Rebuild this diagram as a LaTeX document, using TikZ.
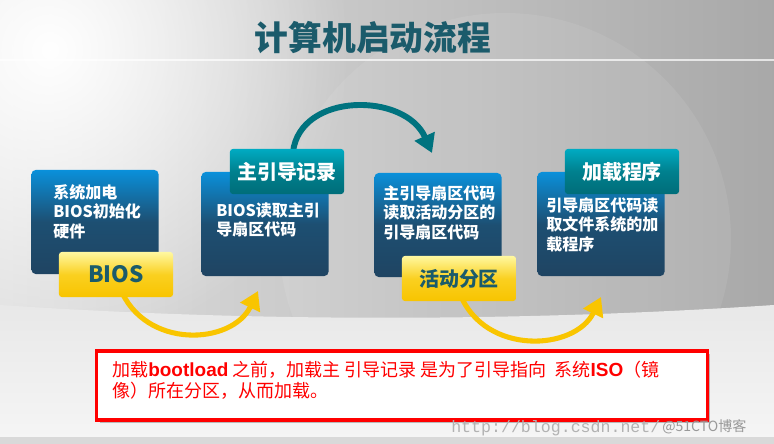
\documentclass[tikz,border=0pt]{standalone}
\usepackage{fontspec}
\setmainfont{Noto Sans CJK SC}
\newfontfamily\arialfnt{Liberation Sans}
\newfontfamily\monofnt{Liberation Mono}
\usetikzlibrary{arrows.meta,shadows,fadings}

\definecolor{titlecol}{HTML}{1B5B6B}
\definecolor{boxtop}{HTML}{0A90DA}
\definecolor{boxmid}{HTML}{1D4F72}
\definecolor{boxbot}{HTML}{1F4462}
\definecolor{tealtop}{HTML}{00ABC2}
\definecolor{tealmid}{HTML}{00808E}
\definecolor{tealbot}{HTML}{006D79}
\definecolor{yeltop}{HTML}{FFF8A0}
\definecolor{yelmid}{HTML}{FAD020}
\definecolor{yelbot}{HTML}{F8C400}
\definecolor{arrowyel}{HTML}{F9C500}
\definecolor{arrowteal}{HTML}{00737F}

\tikzfading[name=glowfade, inner color=transparent!0, outer color=transparent!100]

\begin{document}
\begin{tikzpicture}[x=0.025cm, y=-0.025cm]
    \tikzstyle{infobox}=[rounded corners=3pt, minimum width=3.175cm, minimum height=2.6cm, inner sep=0pt, top color=boxtop, bottom color=boxbot, middle color=boxmid]
    \tikzstyle{infotext}=[anchor=north west, inner sep=0pt, align=left, text=white, font=\fontsize{11.4}{14}\selectfont\bfseries]
    \tikzstyle{tab}=[rounded corners=2pt, minimum width=2.85cm, minimum height=1.125cm, inner sep=0pt]
    \tikzstyle{yellow tab}=[tab, top color=yeltop, bottom color=yelbot, middle color=yelmid, text=titlecol, font=\fontsize{14.2}{16}\selectfont\bfseries]
    \tikzstyle{teal tab}=[tab, top color=tealtop, bottom color=tealbot, middle color=tealmid, text=white, font=\fontsize{14.2}{16}\selectfont\bfseries]
    \tikzstyle{bend arrow}=[line width=3.6pt, -{Triangle[length=13pt,width=15pt]}]

\useasboundingbox (0,0) rectangle (774,444);
% background
\shade[left color=black!12, right color=black!34] (0,0) rectangle (774,444);
\fill[white, path fading=glowfade] (-250,-250) rectangle (350,350);
\fill[white, opacity=0.08] (505,239) circle (226);
\shade[top color=black!9, bottom color=black!4] (0,305) .. controls (250,322) and (520,322) .. (774,305) -- (774,437) -- (0,437) -- cycle;
\fill[black!15] (0,437) rectangle (774,444);
\draw[white, opacity=0.7, line width=1.2pt] (0,60) -- (774,60);

\node[text=titlecol, font=\fontsize{24}{28}\selectfont\bfseries] (title) at (373,38) {计算机启动流程};

% arrows, drawn below the tabs
\coordinate (y1s) at (120,288);
\coordinate (y1e) at (258,291);
\coordinate (y2s) at (460,294);
\coordinate (y2e) at (601,297);
\coordinate (ts) at (293,152);
\coordinate (te) at (432,153);
\draw[bend arrow, arrowyel] (y1s) .. controls (145,350) and (232,345) .. (y1e);
\draw[bend arrow, arrowyel] (y2s) .. controls (485,356) and (575,351) .. (y2e);
\draw[bend arrow, arrowteal, line width=4.2pt] (ts) .. controls (300,92) and (405,92) .. (te);

% boxes
\node[infobox] (b1) at (95,222) {};
\node[infobox] (b2) at (265,224) {};
\node[infobox] (b3) at (438,225) {};
\node[infobox] (b4) at (601,224) {};
\node[infotext] (t1) at (53,184) {系统加电\\BIOS初始化\\硬件};
\node[infotext] (t2) at (216,202) {BIOS读取主引\\导扇区代码};
\node[infotext] (t3) at (383,185) {主引导扇区代码\\读取活动分区的\\引导扇区代码};
\node[infotext] (t4) at (546,197) {引导扇区代码读\\取文件系统的加\\载程序};

% tabs
\node[yellow tab, font=\fontsize{16}{18}\selectfont\bfseries] (bios) at (116,274.5) {BIOS};
\node[teal tab] (mbr) at (287,171.5) {主引导记录};
\node[yellow tab] (part) at (459,278.5) {活动分区};
\node[teal tab] (loader) at (622,171.5) {加载程序};

% note
\node[draw=red, line width=2.2pt, fill=white, minimum width=15.25cm, minimum height=1.725cm, drop shadow={shadow xshift=2pt, shadow yshift=-2pt, opacity=0.5}] (note) at (402,385.5) {};
\node[anchor=north west, inner sep=0pt, align=left, text=red, font=\fontsize{12.8}{15}\selectfont] (notetext) at (112,361) {加载{\arialfnt\bfseries\fontsize{13.5}{15}\selectfont bootload} 之前，加载主 引导记录 是为了引导指向\ \ 系统{\arialfnt\bfseries\fontsize{13.5}{15}\selectfont ISO}（镜\\像）所在分区，从而加载。};

% watermark
\node[anchor=west, inner sep=0pt, text=black!30, font=\monofnt\fontsize{11.8}{13}\selectfont] (wmurl) at (451,428) {http://blog.csdn.net/};
\node[anchor=west, inner sep=0pt, text=black!40, font=\fontsize{10}{12}\selectfont] (wmsite) at (662,427) {@51CTO博客};
\end{tikzpicture}
\end{document}
